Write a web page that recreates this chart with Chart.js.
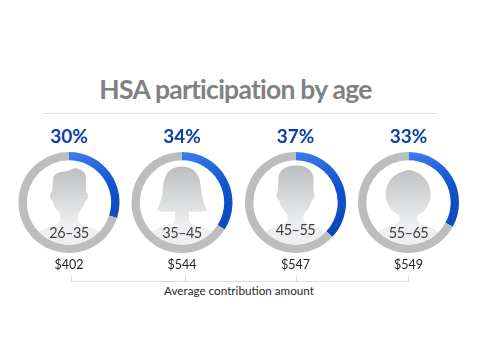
<!DOCTYPE html>
<html><head><meta charset="utf-8">
<script src="https://cdn.jsdelivr.net/npm/chart.js@4"></script>
<style>
html,body{margin:0;padding:0;background:#fff;width:480px;height:359px;overflow:hidden;font-family:"Lato",sans-serif}
canvas,.t,.l{position:absolute}
.t{white-space:nowrap;transform:translate(-50%,-50%);line-height:1}
.l{background:#dcdddd}
#title{left:235.5px;top:89px;font-size:26.5px;font-weight:700;color:#808184;letter-spacing:-.75px}
.pct{top:135px;font-size:19px;font-weight:700;color:#0c3fa6}
.age{font-size:14.5px;color:#3f3f41;letter-spacing:-.55px}
.amt{top:265px;font-size:12.5px;color:#1f1f20}
#cap{left:239px;top:291px;font-size:11.7px;color:#2a2a2b}
</style></head><body>
<div class="t" id="title">HSA participation by age</div>
<div class="l" style="left:44px;top:113px;width:392px;height:1px"></div>
<div class="l" style="left:71px;top:281px;width:338px;height:1px"></div>
<div class="l" style="left:71px;top:276px;width:1px;height:5px"></div>
<div class="l" style="left:185px;top:276px;width:1px;height:5px"></div>
<div class="l" style="left:296px;top:276px;width:1px;height:5px"></div>
<div class="l" style="left:408px;top:276px;width:1px;height:5px"></div>
<div class="t" id="cap">Average contribution amount</div>
<script>
const ageGroups = ["26–35", "35–45", "45–55", "55–65"];
const participation = [30, 34, 37, 33];
const contributions = ["$402", "$544", "$547", "$549"];

const centersX = [69, 182, 295.5, 408.5];
const ageLabelY = [233, 233, 230, 233];
const silhouettes = [
 "M-16,-22 C-17,-29 -9,-31 -3,-31 C2,-33 8,-36 10,-33 C16,-32 18,-27 17,-20 L17,-10 C20,-10 20,-3 16,-1 C14,6 11,9 9,11 L9,18 C9,20 12,22 16,24 L-16,24 C-12,22 -9,20 -9,18 L-9,11 C-12,8 -15,5 -16,-1 C-20,-3 -20,-9 -17,-11 Z",
 "M0,-36 C-13,-36 -18,-27 -19,-15 C-20,-3 -23,3 -25,8 C-19,10 -12,9 -7,9 L-7,17 C-7,20 -10,22 -14,24 L14,24 C10,22 7,20 7,17 L7,9 C12,9 19,10 25,8 C23,3 20,-3 19,-15 C18,-27 13,-36 0,-36 Z",
 "M-17,-26 C-15,-35 -7,-37 2,-37 C10,-37 16,-33 18,-26 L18,-10 C20,-9 19,-3 16,-2 C15,5 11,9 8,12 L8,17 C9,20 12,21 16,23 L-16,23 C-12,21 -9,20 -8,17 L-8,12 C-11,9 -15,5 -16,-2 C-19,-3 -20,-9 -18,-10 Z",
 "M-5,-31 C-2,-33 3,-33 6,-31 C15,-28 22,-20 22,-9 C22,-1 19,6 14,10 L9,13 L9,18 C10,20 13,22 16,24 L-16,24 C-13,22 -10,20 -9,18 L-9,13 C-14,11 -22,4 -23,-7 C-23,-20 -15,-29 -5,-31 Z"
];

function addText(cls, text, x, y) {
  const d = document.createElement("div");
  d.className = "t " + cls;
  d.textContent = text;
  d.style.left = x + "px";
  if (y !== undefined) d.style.top = y + "px";
  document.body.appendChild(d);
}

const silhouettePlugin = {
  id: "silhouette",
  afterDatasetsDraw(chart, args, opts) {
    const arc = chart.getDatasetMeta(0).data[0];
    const c = chart.ctx;
    c.save();
    c.translate(arc.x, arc.y);
    c.beginPath();
    c.arc(0, 0, 42, 0, Math.PI * 2);
    c.clip();
    c.fillStyle = "#eeeff0";
    c.beginPath();
    c.ellipse(0, 48, 42, 27, 0, 0, Math.PI * 2);
    c.fill();
    const g = c.createLinearGradient(0, -36, 0, 24);
    g.addColorStop(0, "#bdbebf");
    g.addColorStop(0.5, "#d6d7d8");
    g.addColorStop(1, "#f0f1f2");
    c.fillStyle = g;
    c.fill(new Path2D(opts.path));
    c.restore();
  }
};

ageGroups.forEach((age, i) => {
  const cv = document.createElement("canvas");
  const cx = centersX[i];
  const w = Number.isInteger(cx) ? 110 : 111;
  cv.width = w; cv.height = 111;
  cv.style.left = (cx - w / 2) + "px";
  cv.style.top = "147px";
  document.body.appendChild(cv);
  new Chart(cv, {
    type: "doughnut",
    data: {
      labels: ["Participating", "Not participating"],
      datasets: [{
        data: [participation[i], 100 - participation[i]],
        borderWidth: 0,
        backgroundColor(ctx) {
          if (ctx.dataIndex === 1) return "#bcbdbf";
          const g = ctx.chart.ctx.createLinearGradient(w / 2, 5, w / 2 + 30, 90);
          g.addColorStop(0, "#3f7df0");
          g.addColorStop(0.5, "#0f55cc");
          g.addColorStop(1, "#0a48bb");
          return g;
        }
      }]
    },
    options: {
      responsive: false,
      animation: false,
      radius: 50.5,
      cutout: "83.5%",
      events: [],
      plugins: { legend: { display: false }, tooltip: { enabled: false }, silhouette: { path: silhouettes[i] } }
    },
    plugins: [silhouettePlugin]
  });
  addText("pct", participation[i] + "%", cx);
  addText("age", age, cx, ageLabelY[i]);
  addText("amt", contributions[i], cx);
});
</script>
</body></html>
